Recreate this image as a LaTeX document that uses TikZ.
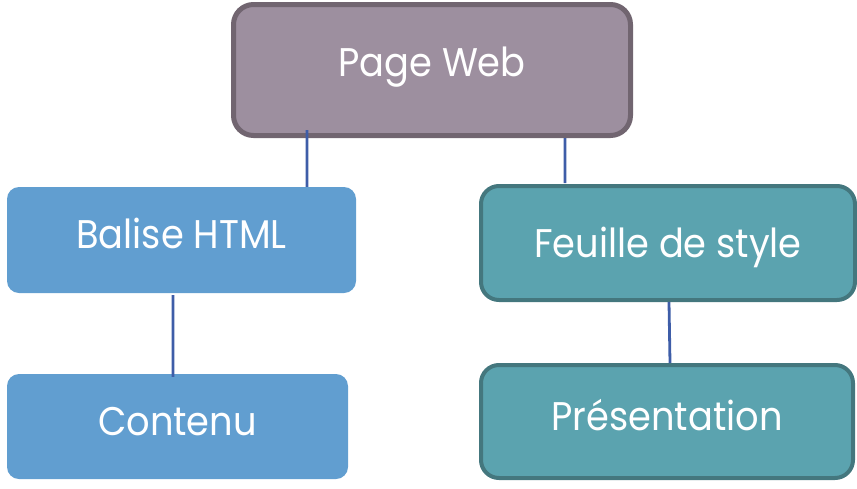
\documentclass[tikz,border=0pt]{standalone}
\usepackage{fontspec}
\setmainfont{Poppins}[FakeStretch=0.92]
\usepackage{tikz}

\definecolor{pageFill}{RGB}{157,143,159}
\definecolor{pageLine}{RGB}{113,101,112}
\definecolor{blueFill}{RGB}{97,158,208}
\definecolor{tealFill}{RGB}{91,163,175}
\definecolor{tealLine}{RGB}{68,119,126}
\definecolor{linkCol}{RGB}{62,93,168}

\begin{document}
\begin{tikzpicture}[x=1pt,y=-1pt,
    box/.style={rectangle,text=white,font=\fontsize{40}{40}\selectfont,
      text height=28pt,inner sep=0pt,align=center},
    pagebox/.style={box,fill=pageFill,draw=pageLine,line width=5pt,rounded corners=20pt},
    bluebox/.style={box,fill=blueFill,rounded corners=12pt},
    tealbox/.style={box,fill=tealFill,draw=tealLine,line width=4pt,rounded corners=18pt},
    link/.style={draw=linkCol,line width=2.8pt}]
    \useasboundingbox (0,0) rectangle (857,488);

    \node (pw) at (432,70) [pagebox,minimum width=397pt,minimum height=131pt,text depth=15pt] {Page Web};
    \node (bal) at (181.5,240) [bluebox,minimum width=349pt,minimum height=106pt,text depth=11pt] {Balise HTML};
    \node (con) at (177.5,426.5) [bluebox,minimum width=341pt,minimum height=105pt,text depth=10pt] {Contenu};
    \node (fe) at (668,243) [tealbox,minimum width=374pt,minimum height=114pt,text depth=0pt] {Feuille de style};
    \node (pr) at (667,421.5) [tealbox,minimum width=372pt,minimum height=113pt,text depth=11pt] {Présentation};

    \draw[link]
    ([xshift=-125pt,yshift=8pt]pw.south) to ([xshift=125.5pt]bal.north)
    ([xshift=133pt]pw.south) to ([xshift=-103pt,yshift=1pt]fe.north)
    ([xshift=-8.5pt,yshift=-2pt]bal.south) to ([xshift=-4.5pt,yshift=-3pt]con.north)
    ([xshift=1pt]fe.south) to ([xshift=3pt]pr.north);
\end{tikzpicture}
\end{document}
